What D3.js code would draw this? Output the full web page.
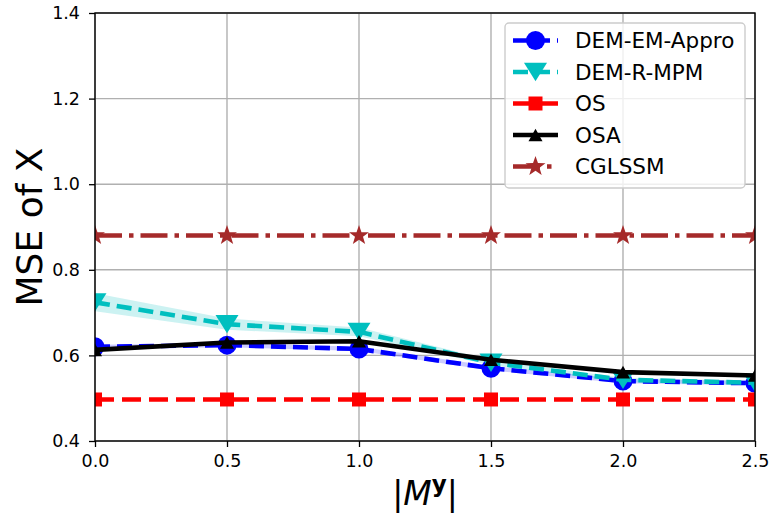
<!DOCTYPE html>
<html>
<head>
<meta charset="utf-8">
<script src="https://cdnjs.cloudflare.com/ajax/libs/d3/7.8.5/d3.min.js"></script>
<style>
  body { margin: 0; background: #fff; }
  svg { font-family: "DejaVu Sans", sans-serif; }
  .tick text { font-family: "DejaVu Sans", sans-serif; font-size: 17.5px; fill: #000; }
  .tick line { stroke: #000; stroke-width: 1.3; }
  .grid line { stroke: #b0b0b0; stroke-width: 1.4; }
  .legend text { font-size: 21.5px; fill: #000; }
</style>
</head>
<body>
<script>
// values
var xVals = [0, 0.5, 1.0, 1.5, 2.0, 2.5];
var xTicks = [0, 0.5, 1.0, 1.5, 2.0, 2.5];
var yTicks = [0.4, 0.6, 0.8, 1.0, 1.2, 1.4];

var demEM   = [0.620, 0.624, 0.615, 0.570, 0.540, 0.535];
var demEMLo = [0.615, 0.619, 0.610, 0.565, 0.535, 0.530];
var demEMHi = [0.625, 0.629, 0.620, 0.575, 0.545, 0.540];

var demR    = [0.724, 0.673, 0.655, 0.583, 0.543, 0.536];
var demRLo  = [0.703, 0.660, 0.645, 0.577, 0.538, 0.531];
var demRHi  = [0.745, 0.686, 0.665, 0.589, 0.548, 0.541];

var osVals  = [0.497, 0.497, 0.497, 0.497, 0.497, 0.497];
var osaVals = [0.613, 0.630, 0.633, 0.590, 0.561, 0.553];
var cglVals = [0.880, 0.880, 0.880, 0.880, 0.880, 0.880];

var seriesNames = ["DEM-EM-Appro", "DEM-R-MPM", "OS", "OSA", "CGLSSM"];

var w = 774, h = 520;
var pLeft = 95, pRight = 755, pTop = 13, pBottom = 441;

var svg = d3.select("body").append("svg")
  .attr("width", w)
  .attr("height", h);

var x = d3.scaleLinear().domain([0, 2.5]).range([pLeft, pRight]);
var y = d3.scaleLinear().domain([0.4, 1.4]).range([pBottom, pTop]);

svg.append("defs").append("clipPath").attr("id", "plotclip")
  .append("rect")
    .attr("x", pLeft).attr("y", pTop)
    .attr("width", pRight - pLeft).attr("height", pBottom - pTop);

// grid
var grid = svg.append("g").attr("class", "grid");
grid.selectAll(".gx").data(xTicks).enter().append("line")
  .attr("x1", function(d) { return x(d); }).attr("x2", function(d) { return x(d); })
  .attr("y1", pTop).attr("y2", pBottom);
grid.selectAll(".gy").data(yTicks).enter().append("line")
  .attr("x1", pLeft).attr("x2", pRight)
  .attr("y1", function(d) { return y(d); }).attr("y2", function(d) { return y(d); });

// marker shapes
function markerPath(kind, s) {
  if (kind == "circle") {
    var r = s / 2;
    return "M" + (-r) + ",0A" + r + "," + r + " 0 1,0 " + r + ",0A" + r + "," + r + " 0 1,0 " + (-r) + ",0Z";
  }
  if (kind == "tridown") {
    return "M" + (-s / 2) + "," + (-s * 0.4) + "L" + (s / 2) + "," + (-s * 0.4) + "L0," + (s * 0.4) + "Z";
  }
  if (kind == "triup") {
    return "M" + (-s / 2) + "," + (s * 0.45) + "L" + (s / 2) + "," + (s * 0.45) + "L0," + (-s * 0.45) + "Z";
  }
  if (kind == "square") {
    return "M" + (-s / 2) + "," + (-s / 2) + "h" + s + "v" + s + "h" + (-s) + "Z";
  }
  if (kind == "star") {
    var p = [];
    for (var i = 0; i < 10; i++) {
      var rr = i % 2 == 0 ? s / 2 : s * 0.2;
      var a = -Math.PI / 2 + i * Math.PI / 5;
      p.push([rr * Math.cos(a), rr * Math.sin(a)]);
    }
    return "M" + p.join("L") + "Z";
  }
}

var series = [
  { name: seriesNames[0], vals: demEM, lo: demEMLo, hi: demEMHi, color: "#0000ff", band: "#0000ff", dash: "15,7", marker: "circle", ms: 19 },
  { name: seriesNames[1], vals: demR, lo: demRLo, hi: demRHi, color: "#00bfbf", band: "#00bfbf", dash: "15,7", marker: "tridown", ms: 23 },
  { name: seriesNames[2], vals: osVals, color: "#ff0000", dash: "19,8", marker: "square", ms: 14 },
  { name: seriesNames[3], vals: osaVals, color: "#000000", dash: null, marker: "triup", ms: 14 },
  { name: seriesNames[4], vals: cglVals, color: "#a52a2a", dash: "27,7,4.5,7", marker: "star", ms: 21 }
];

var plot = svg.append("g").attr("clip-path", "url(#plotclip)");

// bands under the lines
var area = d3.area()
  .x(function(d, i) { return x(xVals[i]); })
  .y0(function(d) { return y(d[0]); })
  .y1(function(d) { return y(d[1]); });
series.forEach(function(s) {
  if (!s.lo) return;
  var pts = s.lo.map(function(v, i) { return [v, s.hi[i]]; });
  plot.append("path")
    .attr("d", area(pts))
    .attr("fill", s.band)
    .attr("fill-opacity", 0.2);
});

var line = d3.line()
  .x(function(d, i) { return x(xVals[i]); })
  .y(function(d) { return y(d); });

series.forEach(function(s) {
  plot.append("path")
    .attr("d", line(s.vals))
    .attr("fill", "none")
    .attr("stroke", s.color)
    .attr("stroke-width", 4.6)
    .attr("stroke-dasharray", s.dash);
  plot.selectAll(null).data(s.vals).enter().append("path")
    .attr("transform", function(d, i) { return "translate(" + x(xVals[i]) + "," + y(d) + ")"; })
    .attr("d", markerPath(s.marker, s.ms))
    .attr("fill", s.color);
});

// axes
var xAxis = d3.axisBottom(x).tickValues(xTicks).tickFormat(d3.format(".1f")).tickSize(6).tickPadding(8);
var yAxis = d3.axisLeft(y).tickValues(yTicks).tickFormat(d3.format(".1f")).tickSize(6).tickPadding(9);

svg.append("g").attr("transform", "translate(0," + pBottom + ")").call(xAxis)
  .call(function(g) { g.select(".domain").remove(); });
svg.append("g").attr("transform", "translate(" + pLeft + ",0)").call(yAxis)
  .call(function(g) { g.select(".domain").remove(); });

svg.append("rect")
  .attr("x", pLeft).attr("y", pTop)
  .attr("width", pRight - pLeft).attr("height", pBottom - pTop)
  .attr("fill", "none").attr("stroke", "#000").attr("stroke-width", 1.4);

// labels
svg.append("text")
  .attr("transform", "translate(42," + ((pTop + pBottom) / 2) + ") rotate(-90)")
  .attr("text-anchor", "middle")
  .style("font-size", "36px")
  .text("MSE of X");

var xl = svg.append("text")
  .attr("x", (pLeft + pRight) / 2).attr("y", 505)
  .attr("text-anchor", "middle")
  .style("font-size", "33px");
xl.append("tspan").text("|");
xl.append("tspan").style("font-style", "italic").text("M");
xl.append("tspan").attr("dy", -13).style("font-size", "23px").style("font-weight", "bold").text("y");
xl.append("tspan").attr("dy", 13).text("|");

// legend
var legend = svg.append("g").attr("class", "legend");
legend.append("rect")
  .attr("x", 505).attr("y", 23).attr("width", 240).attr("height", 165)
  .attr("rx", 4)
  .attr("fill", "#fff").attr("fill-opacity", 0.8)
  .attr("stroke", "#cccccc").attr("stroke-width", 1.4);

series.forEach(function(s, i) {
  var ry = 40.5 + i * 31.5;
  legend.append("line")
    .attr("x1", 513).attr("x2", 558).attr("y1", ry).attr("y2", ry)
    .attr("stroke", s.color).attr("stroke-width", 4.6)
    .attr("stroke-dasharray", s.dash);
  legend.append("path")
    .attr("transform", "translate(535.5," + ry + ")")
    .attr("d", markerPath(s.marker, s.ms))
    .attr("fill", s.color);
  legend.append("text")
    .attr("x", 575).attr("y", ry).attr("dy", "0.36em")
    .text(s.name);
});
</script>
</body>
</html>
